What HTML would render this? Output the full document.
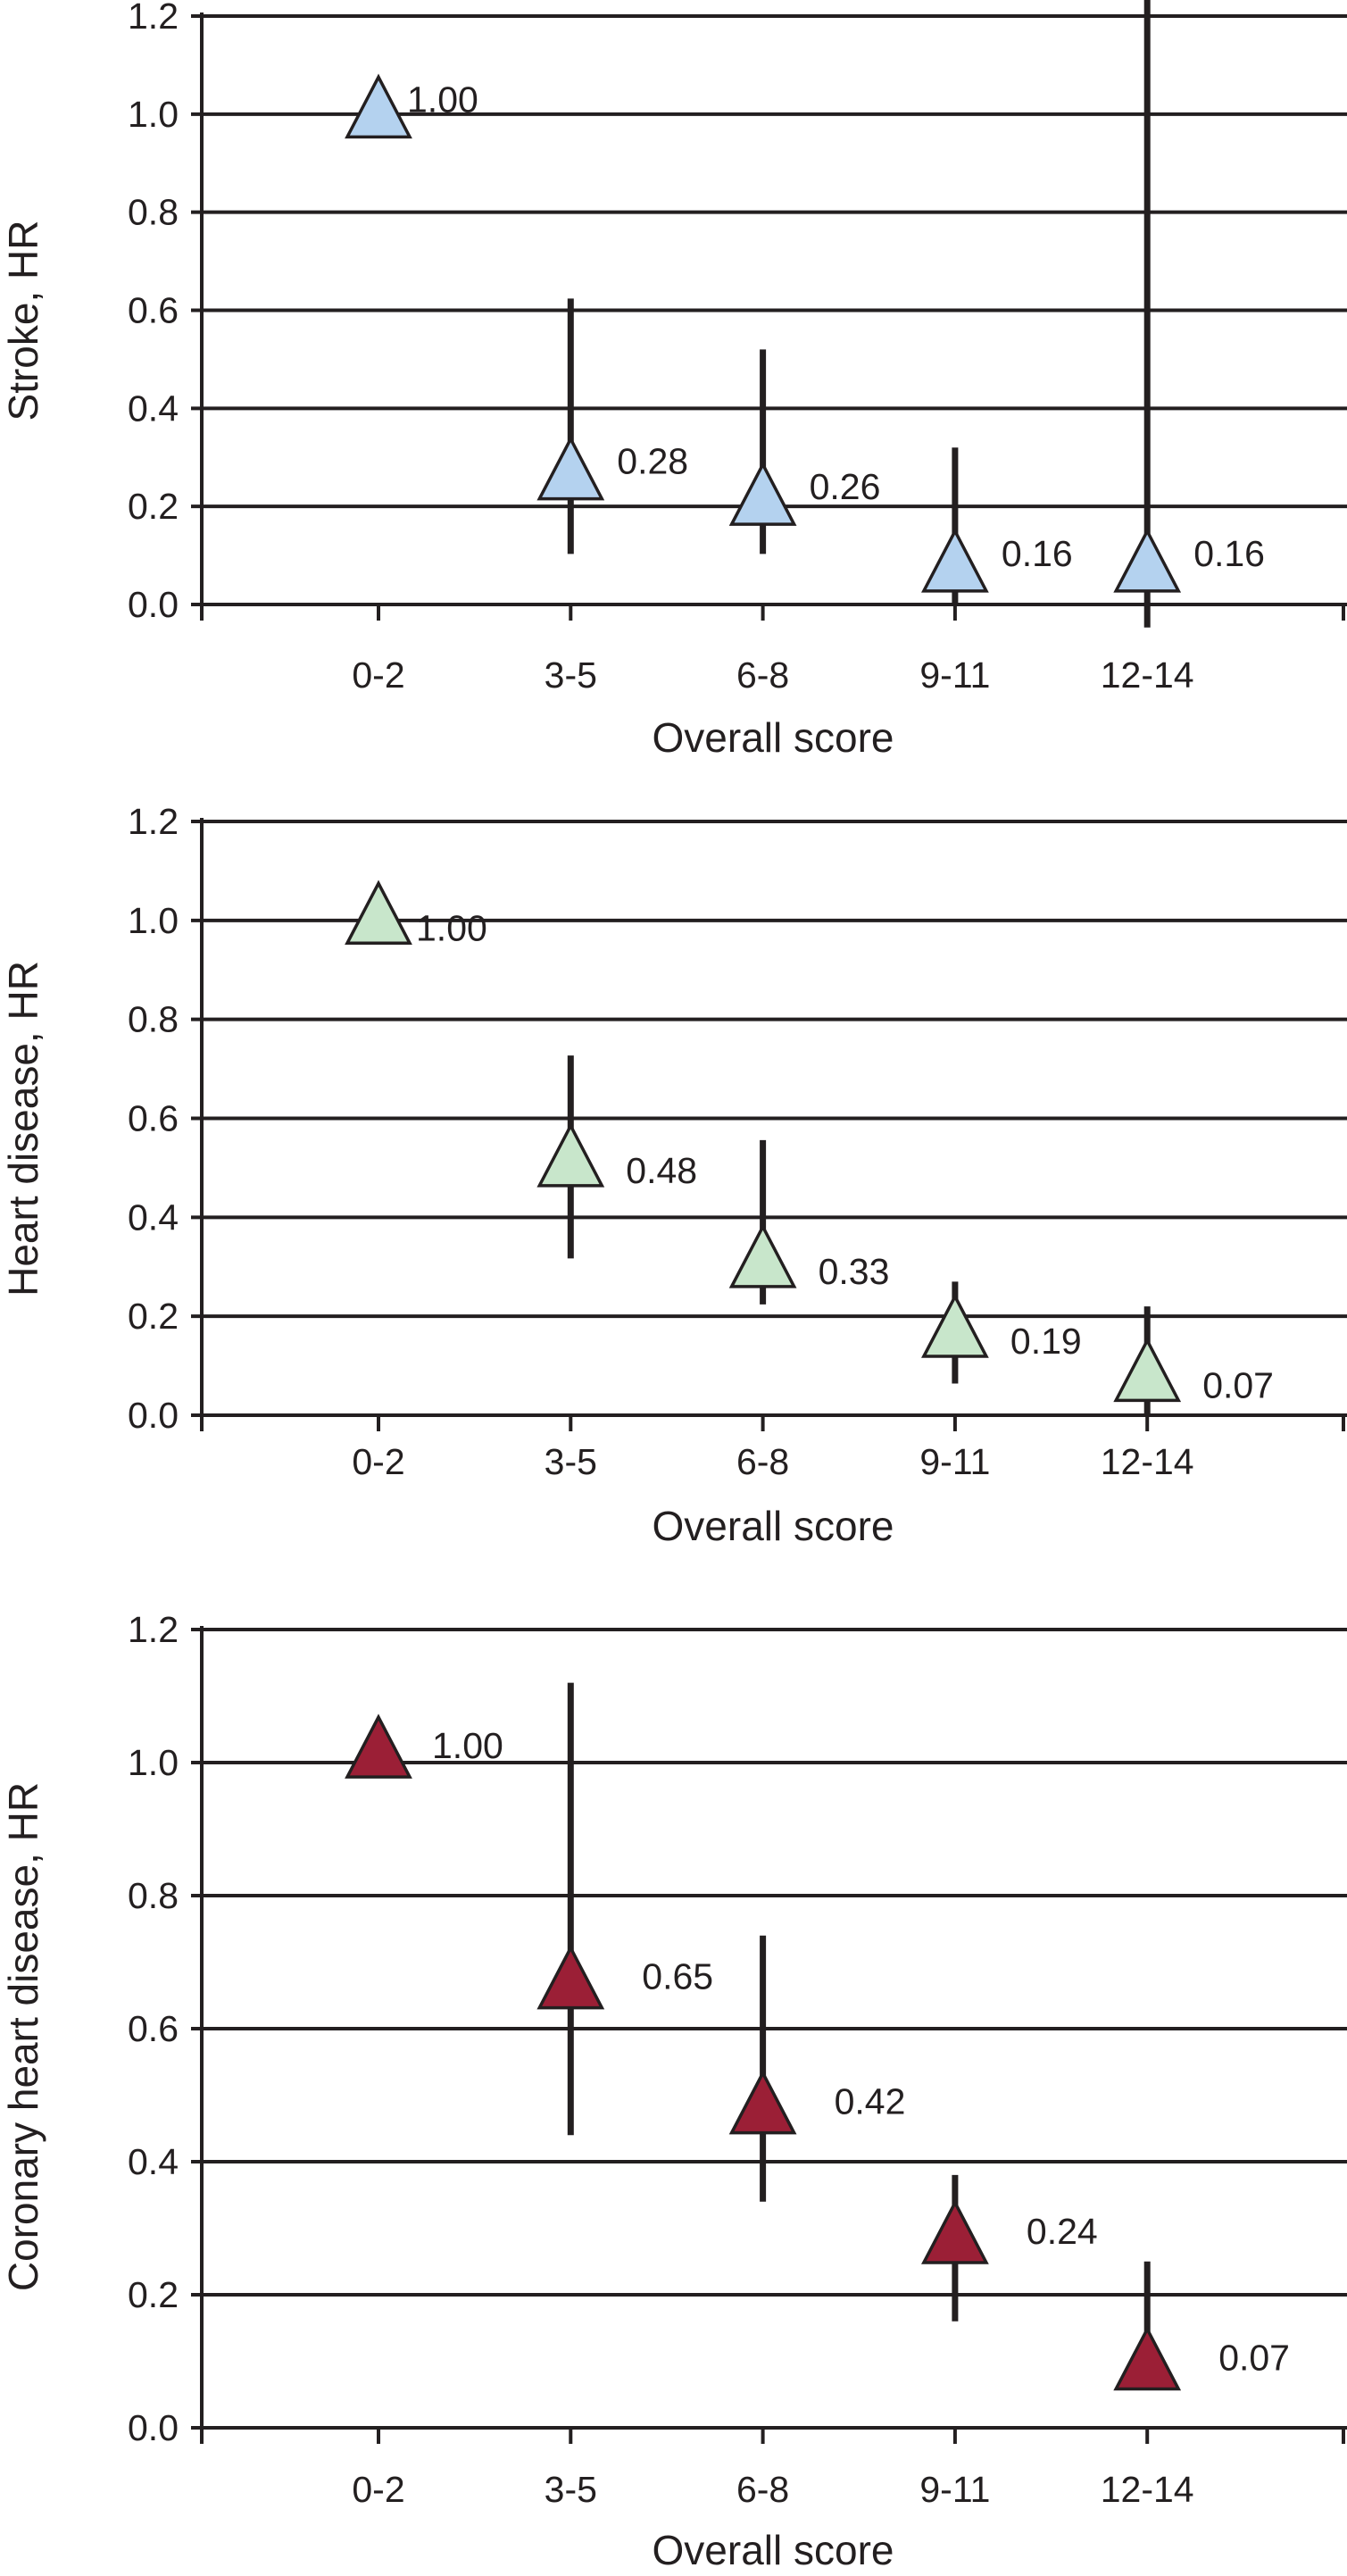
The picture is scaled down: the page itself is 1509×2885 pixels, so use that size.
<!DOCTYPE html>
<html>
<head>
<meta charset="utf-8">
<style>
  html,body{margin:0;padding:0;background:#fff;}
  svg{display:block;}
  text{font-family:"Liberation Sans",sans-serif;fill:#231f20;}
</style>
</head>
<body>
<svg id="chart" width="1509" height="2885" viewBox="0 0 1509 2885" xmlns="http://www.w3.org/2000/svg"></svg>
<script>
// ---- data ----
const categories = ["0-2", "3-5", "6-8", "9-11", "12-14"];
const yTicks = [0.0, 0.2, 0.4, 0.6, 0.8, 1.0, 1.2];
const yTickLabels = ["0.0", "0.2", "0.4", "0.6", "0.8", "1.0", "1.2"];

const strokeHR = [1.01, 0.272, 0.22, 0.084, 0.084];
const strokeLow = [null, 0.103, 0.103, 0.0, -0.047];
const strokeHigh = [null, 0.624, 0.52, 0.32, 1.24];
const strokeLabels = ["1.00", "0.28", "0.26", "0.16", "0.16"];

const heartHR = [1.01, 0.52, 0.316, 0.175, 0.086];
const heartLow = [null, 0.317, 0.224, 0.064, 0.0];
const heartHigh = [null, 0.727, 0.556, 0.27, 0.22];
const heartLabels = ["1.00", "0.48", "0.33", "0.19", "0.07"];

const chdHR = [1.02, 0.673, 0.485, 0.29, 0.10];
const chdLow = [null, 0.44, 0.34, 0.16, 0.06];
const chdHigh = [null, 1.12, 0.74, 0.38, 0.25];
const chdLabels = ["1.00", "0.65", "0.42", "0.24", "0.07"];

const NS = "http://www.w3.org/2000/svg";
const svg = document.getElementById("chart");
function mk(tag, attrs, parent) {
  const e = document.createElementNS(NS, tag);
  for (const k in attrs) e.setAttribute(k, attrs[k]);
  (parent || svg).appendChild(e);
  return e;
}

const panels = [
  {name:"stroke", title:"Stroke, HR", hr:strokeHR, lo:strokeLow, hi:strokeHigh, labels:strokeLabels,
   yZero:677, yTop:18, fill:"#b4d2ef", tickLabelY:770, xTitleY:842, yTitleY:359, ldx:52, ldy:-11},
  {name:"heart-disease", title:"Heart disease, HR", hr:heartHR, lo:heartLow, hi:heartHigh, labels:heartLabels,
   yZero:1585, yTop:920, fill:"#c8e6cb", tickLabelY:1651, xTitleY:1725, yTitleY:1264, ldx:62, ldy:14},
  {name:"coronary-heart-disease", title:"Coronary heart disease, HR", hr:chdHR, lo:chdLow, hi:chdHigh, labels:chdLabels,
   yZero:2719, yTop:1825, fill:"#9b1f36", tickLabelY:2802, xTitleY:2872, yTitleY:2281, ldx:80, ldy:-4}
];

const axisX = 226, rightX = 1505;
function xScale(i){ return 424 + i * 215.3; }

panels.forEach(p => {
  const g = mk("g", {});
  
  
  const yScale = v => p.yZero - (v / 1.2) * (p.yZero - p.yTop);

  // gridlines + y tick labels
  yTicks.forEach((t, k) => {
    const y = yScale(t);
    const l = mk("line", {x1:axisX - 12, x2:1509, y1:y, y2:y, stroke:"#231f20", "stroke-width":4}, g);
    
    
    const tx = mk("text", {x:200, y:y + 14, "font-size":41, "text-anchor":"end"}, g);
    tx.textContent = yTickLabels[k];
    
    
  });
  // y axis
  const ax = mk("line", {x1:axisX, x2:axisX, y1:p.yTop - 4, y2:p.yZero + 18, stroke:"#231f20", "stroke-width":4}, g);
  
  
  // x ticks
  const tickXs = [axisX].concat(categories.map((c, i) => xScale(i))).concat([rightX]);
  tickXs.forEach(x => {
    const t = mk("line", {x1:x, x2:x, y1:p.yZero, y2:p.yZero + 18, stroke:"#231f20", "stroke-width":4}, g);
    
    
  });
  categories.forEach((c, i) => {
    const t = mk("text", {x:xScale(i), y:p.tickLabelY, "font-size":41, "text-anchor":"middle"}, g);
    t.textContent = c;
    
    
  });
  // titles
  const xt = mk("text", {x:866, y:p.xTitleY, "font-size":46, "text-anchor":"middle"}, g);
  xt.textContent = "Overall score";
  
  
  const yt = mk("text", {x:0, y:0, "font-size":46, "text-anchor":"middle",
    transform:"translate(42," + p.yTitleY + ") rotate(-90)"}, g);
  yt.textContent = p.title;
  
  

  // error bars
  p.hr.forEach((v, i) => {
    if (p.lo[i] === null) return;
    const x = xScale(i);
    const e = mk("line", {x1:x, x2:x, y1:Math.max(yScale(p.hi[i]), 0), y2:yScale(p.lo[i]), stroke:"#231f20", "stroke-width":7}, g);
    
    
  });
  // markers + labels
  p.hr.forEach((v, i) => {
    const x = xScale(i), y = yScale(v);
    const tri = mk("polygon", {points:(x) + "," + (y - 36) + " " + (x - 35) + "," + (y + 31) + " " + (x + 35) + "," + (y + 31),
      fill:p.fill, stroke:"#231f20", "stroke-width":3.5, "stroke-linejoin":"miter"}, g);
    
    
    const dx = i === 0 ? p.ldx - 20 : p.ldx;
    const lb = mk("text", {x:x + dx, y:y + p.ldy + 14, "font-size":41}, g);
    lb.textContent = p.labels[i];
    
    
  });
});
</script>
</body>
</html>
